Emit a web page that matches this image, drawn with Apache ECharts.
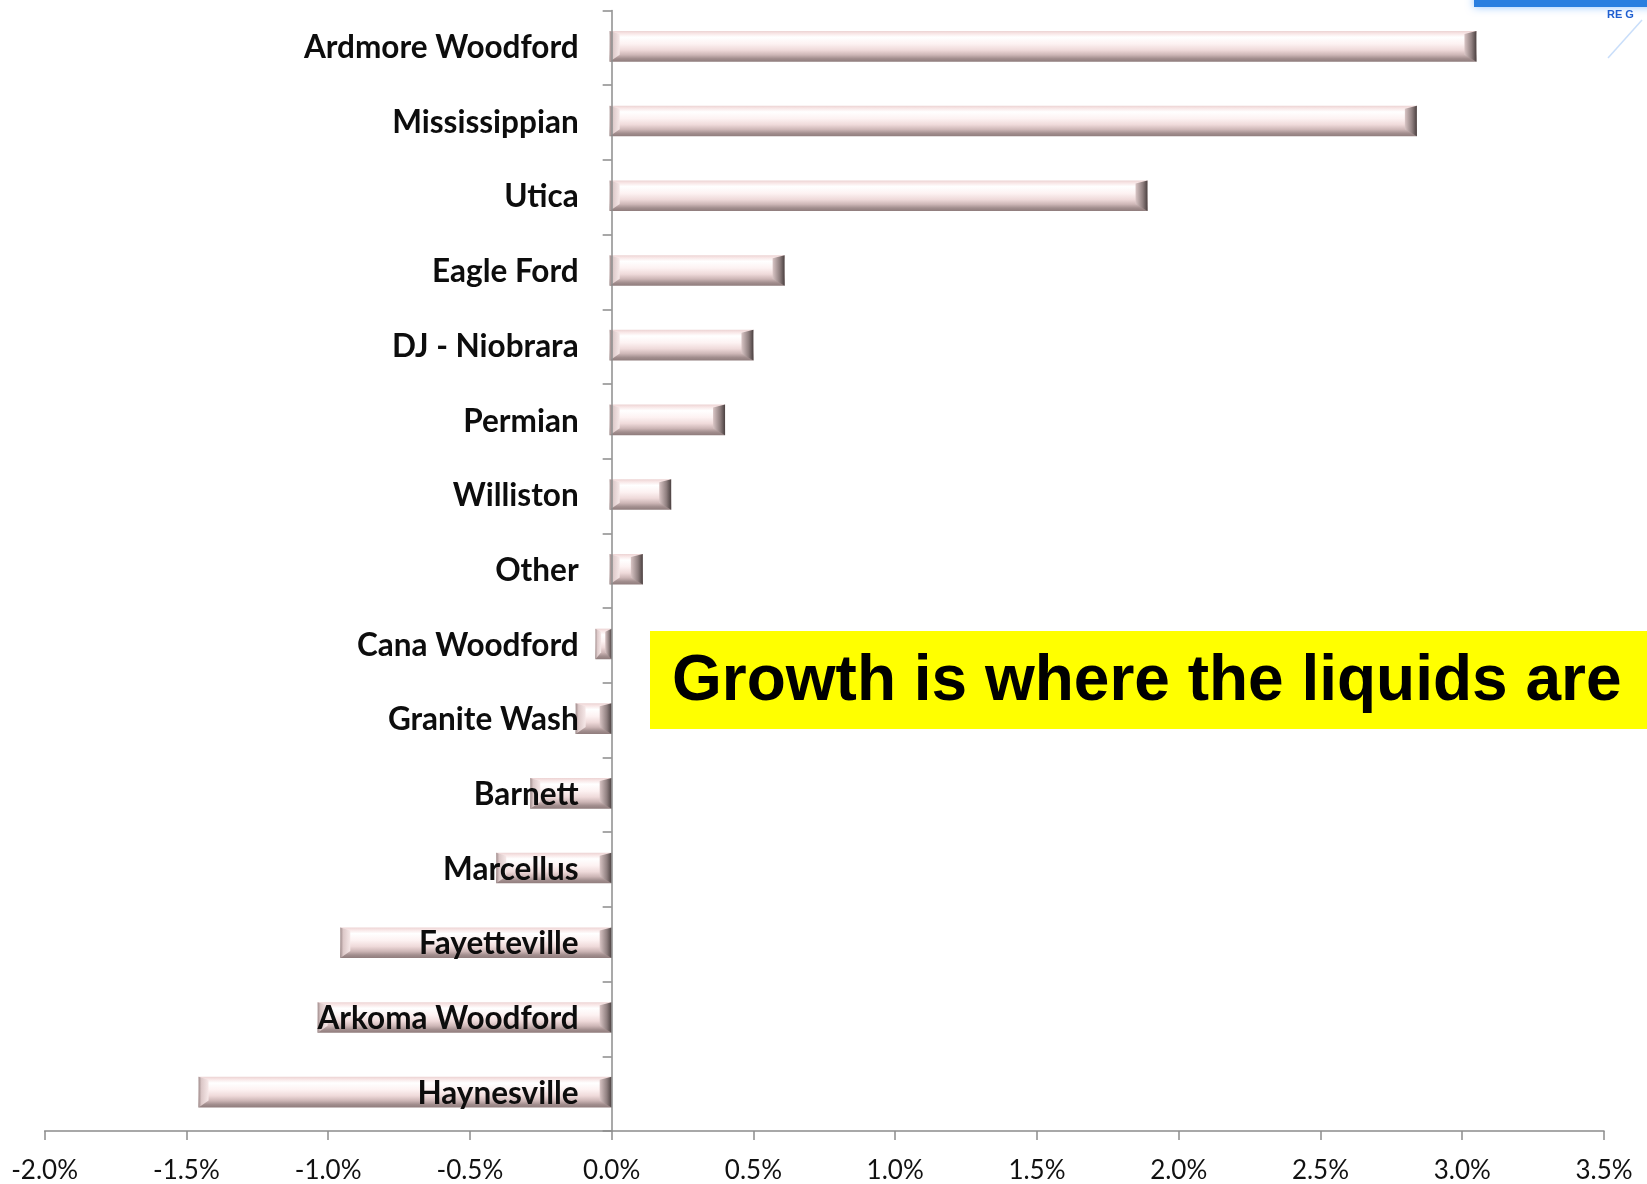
<!DOCTYPE html>
<html>
<head>
<meta charset="utf-8">
<title>Growth by play</title>
<script src="https://cdn.jsdelivr.net/npm/echarts@6/dist/echarts.min.js"></script>
<style>
  html, body { margin: 0; padding: 0; background: #ffffff; }
  #chart { width: 1647px; height: 1184px; }
</style>
</head>
<body>
<div id="chart"></div>
<script>
// Plays, listed top to bottom
const plays = [
  'Ardmore Woodford', 'Mississippian', 'Utica', 'Eagle Ford', 'DJ - Niobrara',
  'Permian', 'Williston', 'Other', 'Cana Woodford', 'Granite Wash',
  'Barnett', 'Marcellus', 'Fayetteville', 'Arkoma Woodford', 'Haynesville'
];
// Growth, in percent
const growth = [
  3.05, 2.84, 1.89, 0.61, 0.50,
  0.40, 0.21, 0.11, -0.05, -0.12,
  -0.28, -0.40, -0.95, -1.03, -1.45
];
// X axis scale, in percent
const xMin = -2.0;
const xMax = 3.5;
const xStep = 0.5;
const headline = 'Growth is where the liquids are';

const W = 1647;
const gridLeft = 44.6;
const gridRight = 43;
// the category axis sits at 0% rather than at the grid edge
const zeroShift = (0 - xMin) / (xMax - xMin) * (W - gridLeft - gridRight);

const chart = echarts.init(document.getElementById('chart'));

// Beveled bar: face gradient plus light / dark end caps
function renderBevelBar(params, api) {
  const v = api.value(0);
  const cat = api.value(1);
  const pZero = api.coord([0, cat]);
  const pVal = api.coord([v, cat]);
  const band = api.size([0, 1])[1];
  const h = band * 0.41;
  const yc = pZero[1] - 1.5;
  const y0 = yc - h / 2;
  const y1 = yc + h / 2;
  const xL = Math.min(pZero[0], pVal[0]) - 2;
  const xR = Math.max(pZero[0], pVal[0]);
  const w = xR - xL;
  const bR = Math.min(12, w * 0.4);
  const bL = Math.min(10, w * 0.35);
  const tv = 3;
  const bv = 7;

  const face = {
    type: 'rect',
    shape: { x: xL, y: y0, width: w, height: h },
    style: {
      fill: new echarts.graphic.LinearGradient(0, 0, 0, 1, [
        { offset: 0, color: '#ecd3d3' },
        { offset: 0.08, color: '#f8e6e6' },
        { offset: 0.2, color: '#ffffff' },
        { offset: 0.42, color: '#fdf2f2' },
        { offset: 0.62, color: '#efdada' },
        { offset: 0.78, color: '#cdb6b6' },
        { offset: 0.9, color: '#a28e8e' },
        { offset: 1, color: '#8f7c7c' }
      ])
    }
  };
  const rightCap = {
    type: 'polygon',
    shape: { points: [[xR, y0], [xR - bR, y0 + tv], [xR - bR, y1 - bv], [xR, y1]] },
    style: {
      fill: new echarts.graphic.LinearGradient(0, 0, 1, 0, [
        { offset: 0, color: '#d9c5c5' },
        { offset: 0.6, color: '#8f7f7f' },
        { offset: 1, color: '#4a4040' }
      ])
    }
  };
  const leftCap = {
    type: 'polygon',
    shape: { points: [[xL, y0], [xL + bL, y0 + tv], [xL + bL, y1 - bv], [xL, y1]] },
    style: {
      fill: new echarts.graphic.LinearGradient(0, 0, 1, 0, [
        { offset: 0, color: '#9e8b8b' },
        { offset: 0.3, color: '#dcc8c8' },
        { offset: 1, color: '#f6e8e8' }
      ])
    }
  };
  return { type: 'group', children: [face, leftCap, rightCap] };
}

const option = {
  backgroundColor: '#ffffff',
  animation: false,
  grid: {
    left: gridLeft, right: gridRight, top: 10.5, bottom: 53,
    containLabel: false,
    outerBoundsMode: 'none'
  },
  xAxis: {
    type: 'value',
    min: xMin,
    max: xMax,
    interval: xStep,
    splitLine: { show: false },
    axisLine: { show: true, lineStyle: { color: '#8c8c8c', width: 1.5 } },
    axisTick: { show: true, length: 9, lineStyle: { color: '#8c8c8c', width: 1.5 } },
    axisLabel: {
      margin: 27,
      fontFamily: 'Lato',
      fontSize: 26,
      color: '#111111',
      formatter: (val) => val.toFixed(1) + '%'
    }
  },
  yAxis: {
    type: 'category',
    data: plays,
    inverse: true,
    z: 5,
    offset: -zeroShift,
    axisLine: { show: true, onZero: false, lineStyle: { color: '#8c8c8c', width: 1.5 } },
    axisTick: { show: true, length: 9, inside: false, lineStyle: { color: '#8c8c8c', width: 1.5 } },
    axisLabel: {
      margin: 33,
      fontFamily: 'Lato',
      fontWeight: 'bold',
      fontSize: 31.5,
      color: '#0d0d0d'
    }
  },
  series: [{
    type: 'custom',
    renderItem: renderBevelBar,
    encode: { x: 0, y: 1 },
    data: growth.map((g, i) => [g, i])
  }],
  graphic: [
    {
      type: 'rect',
      shape: { x: 650, y: 631, width: 1000, height: 98 },
      style: { fill: '#ffff00' },
      z: 10
    },
    {
      type: 'text',
      x: 672,
      y: 682,
      z: 11,
      style: {
        text: headline,
        fontFamily: 'Liberation Sans',
        fontWeight: 'bold',
        fontSize: 64,
        fill: '#000000',
        verticalAlign: 'middle'
      }
    },
    // Corner logo fragment
    {
      type: 'rect',
      shape: { x: 1474, y: -4, width: 180, height: 11 },
      style: { fill: '#2a7fe0', shadowBlur: 8, shadowColor: '#8fc4ff' },
      z: 10
    },
    {
      type: 'text',
      x: 1607,
      y: 9,
      z: 10,
      style: { text: 'RE G', fontFamily: 'Liberation Sans', fontWeight: 'bold', fontSize: 11, fill: '#1f5fd0' }
    },
    {
      type: 'line',
      shape: { x1: 1608, y1: 58, x2: 1642, y2: 20 },
      style: { stroke: '#c9defa', lineWidth: 1.5 },
      z: 10
    }
  ]
};

chart.setOption(option);
</script>
</body>
</html>
